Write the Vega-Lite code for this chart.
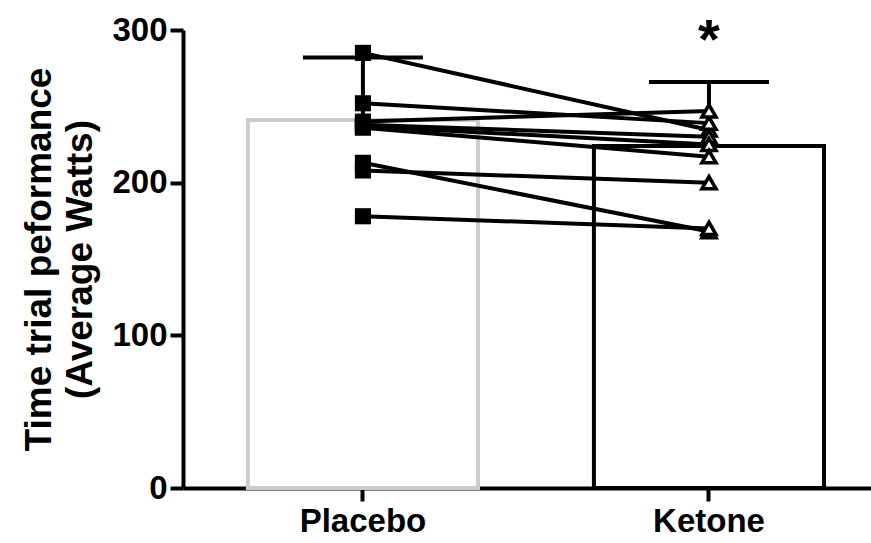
{
  "$schema": "https://vega.github.io/schema/vega-lite/v6.json",
  "autosize": "none",
  "width": 688,
  "height": 458,
  "padding": {"left": 183, "top": 30, "right": 0, "bottom": 55},
  "background": "white",
  "config": {
    "view": {"stroke": null},
    "font": "Liberation Sans"
  },
  "datasets": {
    "bars": [
      {"group": "Placebo", "mean": 241, "top": 282},
      {"group": "Ketone", "mean": 224, "top": 266}
    ],
    "points": [
      {"subject": 1, "group": "Placebo", "value": 285},
      {"subject": 2, "group": "Placebo", "value": 252},
      {"subject": 3, "group": "Placebo", "value": 240},
      {"subject": 4, "group": "Placebo", "value": 238},
      {"subject": 5, "group": "Placebo", "value": 237},
      {"subject": 6, "group": "Placebo", "value": 236},
      {"subject": 7, "group": "Placebo", "value": 213},
      {"subject": 8, "group": "Placebo", "value": 208},
      {"subject": 9, "group": "Placebo", "value": 178},
      {"subject": 1, "group": "Ketone", "value": 234.5},
      {"subject": 2, "group": "Ketone", "value": 239},
      {"subject": 3, "group": "Ketone", "value": 247},
      {"subject": 4, "group": "Ketone", "value": 230},
      {"subject": 5, "group": "Ketone", "value": 225},
      {"subject": 6, "group": "Ketone", "value": 217},
      {"subject": 7, "group": "Ketone", "value": 168},
      {"subject": 8, "group": "Ketone", "value": 200},
      {"subject": 9, "group": "Ketone", "value": 170}
    ],
    "star": [
      {"group": "Ketone", "y": 281.5, "label": "*"}
    ]
  },
  "encoding": {
    "x": {
      "field": "group",
      "type": "nominal",
      "sort": ["Placebo", "Ketone"],
      "scale": {"domain": ["Placebo", "Ketone"], "paddingInner": 0.335, "paddingOuter": 0.1616, "align": 0.58},
      "axis": {
        "title": null,
        "labelAngle": 0,
        "labelFont": "Liberation Sans",
        "labelFontWeight": "bold",
        "labelFontSize": 33,
        "labelColor": "black",
        "labelPadding": 4,
        "domainColor": "black",
        "domainWidth": 4,
        "tickColor": "black",
        "tickWidth": 4,
        "tickSize": 13,
        "grid": false
      }
    }
  },
  "layer": [
    {
      "data": {"name": "bars"},
      "mark": {"type": "bar", "fill": "white", "strokeWidth": 4, "strokeJoin": "miter"},
      "encoding": {
        "y": {
          "field": "mean",
          "type": "quantitative",
          "scale": {"domain": [0, 300], "nice": false, "zero": true},
          "axis": {
            "values": [0, 100, 200, 300],
            "title": ["Time trial peformance", "(Average Watts)"],
            "titleFont": "Liberation Sans",
            "titleFontWeight": "bold",
            "titleFontSize": 37,
            "titleColor": "black",
            "titleLineHeight": 41,
            "titlePadding": 12,
            "labelFont": "Liberation Sans",
            "labelFontWeight": "bold",
            "labelFontSize": 33,
            "labelColor": "black",
            "labelPadding": 3,
            "domainColor": "black",
            "domainWidth": 4,
            "tickColor": "black",
            "tickWidth": 4,
            "tickSize": 13,
            "grid": false
          }
        },
        "stroke": {
          "field": "group",
          "type": "nominal",
          "scale": {"domain": ["Placebo", "Ketone"], "range": ["#cccccc", "black"]},
          "legend": null
        }
      }
    },
    {
      "data": {"name": "bars"},
      "mark": {"type": "rule", "color": "black", "strokeWidth": 4},
      "encoding": {
        "y": {"field": "mean", "type": "quantitative"},
        "y2": {"field": "top"}
      }
    },
    {
      "data": {"name": "bars"},
      "mark": {"type": "tick", "color": "black", "size": 120, "thickness": 4, "orient": "horizontal", "opacity": 1},
      "encoding": {
        "y": {"field": "top", "type": "quantitative"}
      }
    },
    {
      "data": {"name": "points"},
      "mark": {"type": "line", "color": "black", "strokeWidth": 4},
      "encoding": {
        "y": {"field": "value", "type": "quantitative"},
        "detail": {"field": "subject", "type": "nominal"}
      }
    },
    {
      "data": {"name": "points"},
      "transform": [{"filter": "datum.group === 'Placebo'"}],
      "mark": {"type": "point", "shape": "square", "filled": true, "color": "black", "size": 260, "opacity": 1},
      "encoding": {
        "y": {"field": "value", "type": "quantitative"}
      }
    },
    {
      "data": {"name": "points"},
      "transform": [{"filter": "datum.group === 'Ketone'"}],
      "mark": {"type": "point", "shape": "triangle-up", "filled": false, "fill": "white", "stroke": "black", "strokeWidth": 3.5, "size": 200, "opacity": 1},
      "encoding": {
        "y": {"field": "value", "type": "quantitative"}
      }
    },
    {
      "data": {"name": "star"},
      "mark": {"type": "text", "font": "Liberation Sans", "fontWeight": "bold", "fontSize": 56, "color": "black", "baseline": "alphabetic", "align": "center"},
      "encoding": {
        "y": {"field": "y", "type": "quantitative"},
        "text": {"field": "label"}
      }
    }
  ]
}
